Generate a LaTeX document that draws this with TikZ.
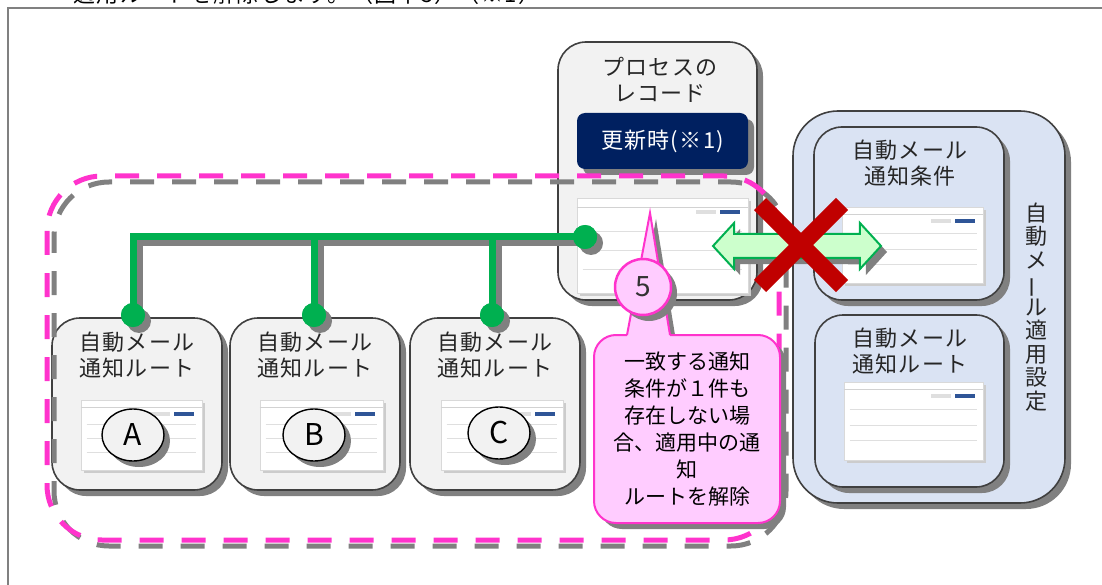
\documentclass[tikz,border=0pt]{standalone}
\usepackage{fontspec}
\setmainfont{Noto Sans CJK JP}
\newfontfamily\spacedfont[LetterSpace=6]{Noto Sans CJK JP}
\usetikzlibrary{shapes.geometric, shapes.arrows, calc}

\definecolor{boxFill}{HTML}{F2F2F2}
\definecolor{boxLine}{HTML}{404040}
\definecolor{blueFill}{HTML}{DAE3F3}
\definecolor{shadowGray}{HTML}{808080}
\definecolor{navy}{HTML}{002060}
\definecolor{linkGreen}{HTML}{00B050}
\definecolor{arrowFill}{HTML}{CCFFCC}
\definecolor{crossRed}{HTML}{C00000}
\definecolor{zonePink}{HTML}{FF33CC}
\definecolor{noteFill}{HTML}{FFCCFF}
\definecolor{shotBlue}{HTML}{2F5597}

\begin{document}
\begin{tikzpicture}[x=1pt, y=-1pt,
    shadowed/.style={preaction={fill=shadowGray, transform canvas={xshift=6pt, yshift=-6pt}}},
    box/.style={draw=boxLine, line width=1.6pt, fill=boxFill, rounded corners=28pt, inner sep=0pt, shadowed},
    title/.style={align=center, text=black!85, font=\spacedfont\fontsize{22}{26}\selectfont},
    shot/.style={draw=gray!30, line width=0.6pt, fill=white, inner sep=0pt,
        preaction={fill=gray!40, transform canvas={xshift=3pt, yshift=-3pt}}},
    joint/.style={circle, fill=linkGreen, minimum size=24pt, inner sep=0pt, shadowed},
    link/.style={draw=linkGreen, line width=7pt,
        preaction={draw=shadowGray, line width=7pt, transform canvas={xshift=6pt, yshift=-6pt}}},
    tag/.style={ellipse, draw=black, line width=1.4pt, fill=boxFill, minimum width=62pt,
        minimum height=52pt, inner sep=0pt, font=\fontsize{30}{30}\selectfont, shadowed},
    zone/.style={draw=zonePink, line width=5pt, dash pattern=on 24pt off 18pt, rounded corners=55pt,
        preaction={draw=shadowGray, line width=5pt, dash pattern=on 24pt off 18pt, dash phase=8pt,
            transform canvas={xshift=7pt, yshift=-6pt}}},
    note/.style={draw=zonePink, line width=2pt, fill=noteFill, rounded corners=22pt, align=center,
        minimum width=186pt, minimum height=188pt, inner sep=0pt, font=\fontsize{21}{27}\selectfont, shadowed},
    redCross/.style={draw=crossRed, line width=17pt}]

    \useasboundingbox (0,0) rectangle (1102,585);
    \clip (0,0) rectangle (1102,585);

    % Page text and frame
    \node[anchor=base west, font=\spacedfont\fontsize{22}{26}\selectfont] (topLine) at (70,3) {適用ルートを解除します。（図中5）（※1）};
    \draw[shadowGray, line width=2pt] (8,585) -- (8,8) -- (1102,8);

    % Process record
    \node[box, minimum width=199pt, minimum height=258pt] (rec) at (657.5,171) {};
    \node[title] (recTitle) at (660,80) {プロセスの\\レコード};
    \node[fill=navy, rounded corners=8pt, minimum width=171pt, minimum height=56pt, text=white,
        font=\spacedfont\fontsize{22}{26}\selectfont, shadowed] (update) at (662.5,141) {更新時(※1)};
    \node[shot, minimum width=171pt, minimum height=95pt] (shotRec) at (662.5,245.5) {};

    % Apply settings
    \node[box, fill=blueFill, rounded corners=45pt, minimum width=272pt, minimum height=392pt] (apply) at (929,307) {};
    \node[title, font=\fontsize{22}{23.5}\selectfont] (applyTitle) at (1036,307)
        {自\\動\\メ\\\rotatebox[origin=c]{90}{ー}\\ル\\適\\用\\設\\定};
    \node[box, fill=blueFill, minimum width=190pt, minimum height=173pt] (cond) at (909,213.5) {};
    \node[title] (condTitle) at (910,163.5) {自動メール\\通知条件};
    \node[shot, minimum width=141pt, minimum height=76pt] (shotCond) at (912.5,245) {};
    \node[box, fill=blueFill, minimum width=189pt, minimum height=172pt] (route) at (909.5,401) {};
    \node[title] (routeTitle) at (910,351.5) {自動メール\\通知ルート};
    \node[shot, minimum width=139pt, minimum height=78pt] (shotRoute) at (913.5,421) {};

    % Routes A, B, C
    \node[box, minimum width=170pt, minimum height=172pt] (routeA) at (137,404) {};
    \node[box, minimum width=170pt, minimum height=172pt] (routeB) at (315,404) {};
    \node[box, minimum width=170pt, minimum height=172pt] (routeC) at (495,404) {};
    \node[title] (titleA) at (137,355) {自動メール\\通知ルート};
    \node[title] (titleB) at (315,355) {自動メール\\通知ルート};
    \node[title] (titleC) at (495,355) {自動メール\\通知ルート};
    \node[shot, minimum width=121pt, minimum height=70pt] (shotA) at (141.5,435) {};
    \node[shot, minimum width=123pt, minimum height=70pt] (shotB) at (321.5,435) {};
    \node[shot, minimum width=122pt, minimum height=70pt] (shotC) at (502,435) {};

    % Screenshot details
    \foreach \s in {shotRec, shotCond, shotRoute, shotA, shotB, shotC} {
        \draw[gray!35, line width=0.5pt] ($(\s.north west)!0.1!(\s.south west)$) -- ($(\s.north east)!0.1!(\s.south east)$);
        \fill[shotBlue] ($(\s.north east)+(-8,12)$) rectangle ++(-20,4);
        \fill[gray!25] ($(\s.north east)+(-32,12)$) rectangle ++(-20,4);
        \foreach \f in {0.35,0.55,0.75}
            \draw[gray!25, line width=0.5pt] ($(\s.north west)!\f!(\s.south west)+(6,0)$) -- ($(\s.north east)!\f!(\s.south east)+(-6,0)$);
    }

    \node[tag] (tagA) at (133,435) {A};
    \node[tag] (tagB) at (314,435) {B};
    \node[tag] (tagC) at (499,433) {C};

    % Green links
    \node[joint] (recDot) at (585,237) {};
    \node[joint] (dotA) at (133,315) {};
    \node[joint] (dotB) at (314,315) {};
    \node[joint] (dotC) at (492,315) {};
    \draw[link] (recDot.center) -| (dotA.center);
    \draw[link] (recDot.center) -| (dotB.center);
    \draw[link] (recDot.center) -| (dotC.center);
    \foreach \d in {recDot, dotA, dotB, dotC}
        \fill[linkGreen] (\d) circle (12);

    % Dashed zone
    \path[zone] (47,176) rectangle (779,540);

    % Blocked link
    \node[double arrow, draw=linkGreen, fill=arrowFill, line width=2pt, minimum height=168pt,
        minimum width=44pt, inner xsep=0pt, inner ysep=11pt, double arrow head extend=11pt,
        double arrow tip angle=95, shadowed] (link) at (797,246) {};
    \draw[redCross] (760,204) -- (842,286);
    \draw[redCross] (760,286) -- (842,204);

    % Note callout
    \fill[shadowGray] (633,341) -- (656,219) -- (676,341) -- cycle;
    \node[note] (note) at (687,429) {一致する通知\\条件が１件も\\存在しない場\\合、適用中の通\\知\\ルートを解除};
    \fill[noteFill] (627,337) -- (650,213) -- (670,337) -- cycle;
    \draw[zonePink, line width=2pt, line join=miter] (627,335) -- (650,213) -- (670,335);
    \node[circle, draw=zonePink, line width=2.5pt, fill=noteFill, minimum size=56pt, inner sep=0pt,
        font=\fontsize{28}{28}\selectfont, text=black!80, shadowed] (stepFive) at (643,287) {5};
\end{tikzpicture}
\end{document}
